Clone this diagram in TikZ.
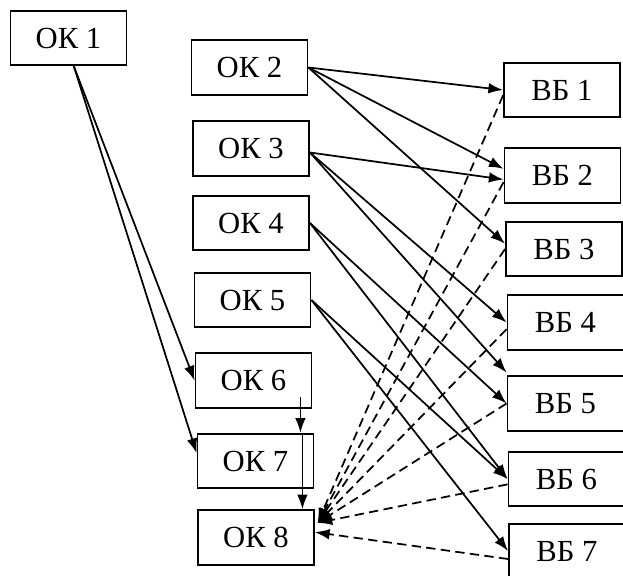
\documentclass[tikz,border=0pt]{standalone}
\usepackage{fontspec}
\setmainfont{Liberation Serif}
\usetikzlibrary{arrows.meta}
\tikzset{
    ok-box/.style = {draw=black, fill=white, line width=1.4pt, rectangle, minimum width=87pt, minimum height=41pt, inner sep=0pt, font=\fontsize{23}{27}\selectfont},
    link/.style = {draw=black, line width=1.3pt, -{Latex[length=11pt,width=8pt]}},
    back-link/.style = {link, dash pattern=on 7pt off 4pt},
}

\begin{document}
\begin{tikzpicture}[x=0.75pt, y=-0.75pt]
\useasboundingbox (0,0) rectangle (623,575);
\node[ok-box] (ok1) at (68.5,38) {ОК 1};
\node[ok-box] (ok2) at (249.5,67.5) {ОК 2};
\node[ok-box] (ok3) at (251,148.5) {ОК 3};
\node[ok-box] (ok4) at (251,223) {ОК 4};
\node[ok-box] (ok5) at (252.5,300) {ОК 5};
\node[ok-box] (ok6) at (253.5,380.5) {ОК 6};
\node[ok-box] (ok7) at (255.5,461) {ОК 7};
\node[ok-box] (ok8) at (256,537.5) {ОК 8};
\node[ok-box] (vb1) at (562,90) {ВБ 1};
\node[ok-box] (vb2) at (562.5,175.5) {ВБ 2};
\node[ok-box] (vb3) at (564,249) {ВБ 3};
\node[ok-box] (vb4) at (565.5,322.5) {ВБ 4};
\node[ok-box] (vb5) at (565.5,403.5) {ВБ 5};
\node[ok-box] (vb6) at (566.5,479) {ВБ 6};
\node[ok-box] (vb7) at (567,551) {ВБ 7};

\coordinate (s1) at ([xshift=4pt]ok1.south);
\draw[link] (s1) -- (ok6.west);
\draw[link] (s1) -- ([yshift=6pt]ok7.west);

\draw[link] (ok2.east) -- (vb1.west);
\draw[link] (ok2.east) -- ([yshift=5pt]vb2.west);
\draw[link] (ok2.east) -- ([yshift=4pt]vb3.west);
\draw[link] ([yshift=-3pt]ok3.east) -- ([yshift=-3pt]vb2.west);
\draw[link] ([yshift=-3pt]ok3.east) -- (vb4.west);
\draw[link] ([yshift=-3pt]ok3.east) -- ([yshift=2pt]vb5.north west);
\draw[link] (ok4.east) -- (vb5.west);
\draw[link] (ok4.east) -- (vb6.west);
\draw[link] (ok5.east) -- (vb6.west);
\draw[link] (ok5.east) -- (vb7.west);

\coordinate (s6) at ([xshift=-9pt,yshift=-12pt]ok6.east);
\draw[link] (s6) -- (s6 |- ok7.north);
\coordinate (s7) at ([xshift=-9pt]ok7.north east);
\draw[link] (s7) -- (s7 |- ok8.north);

\coordinate (hub) at ([xshift=2pt,yshift=11pt]ok8.east);
\draw[back-link] ([yshift=-4pt]vb1.west) -- (hub);
\draw[back-link] ([yshift=-5pt]vb2.west) -- (hub);
\draw[back-link] (vb3.west) -- (hub);
\draw[back-link] ([yshift=-5pt]vb4.west) -- (hub);
\draw[back-link] (vb5.west) -- (hub);
\draw[back-link] ([yshift=-4pt]vb6.west) -- (hub);
\draw[back-link] ([yshift=-6pt]vb7.west) -- ([yshift=4pt]ok8.east);
\end{tikzpicture}
\end{document}
